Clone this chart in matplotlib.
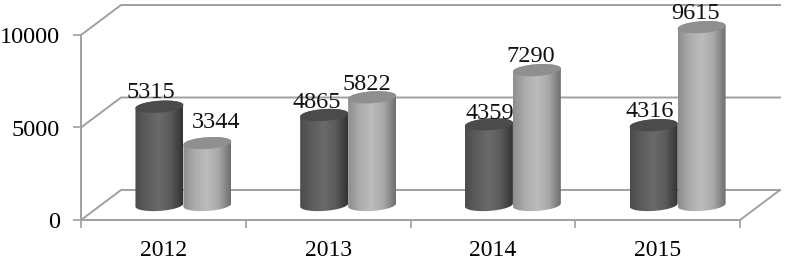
import numpy as np
import matplotlib
matplotlib.use("Agg")
import matplotlib.pyplot as plt
from matplotlib.colors import LinearSegmentedColormap
from matplotlib.path import Path

years = ["2012", "2013", "2014", "2015"]
series_a = [5315, 4865, 4359, 4316]
series_b = [3344, 5822, 7290, 9615]
y_ticks = [0, 5000, 10000]

plt.rcParams["font.family"] = ["Liberation Serif", "DejaVu Serif"]

GRID = "#a0a0a0"
DEPTH_X = 0.243  # 3d floor shift, in categories
DEPTH_Y = 1622  # 3d floor shift, in value units
BAR_W = 0.291
ELL_H = 640
TILT = 170  # rise of the cylinder ends from left to right, in value units

cmap_a = LinearSegmentedColormap.from_list("a", ["#4c4c4c", "#5d5d5d", "#6a6a6a", "#5a5a5a", "#343434"])
cmap_b = LinearSegmentedColormap.from_list("b", ["#8e8e8e", "#adadad", "#bcbcbc", "#a8a8a8", "#6f6f6f"])

fig = plt.figure(figsize=(7.85, 2.61), dpi=100)
ax = fig.add_axes([81 / 785, 41 / 261, 659 / 785, 185 / 261])
grad = np.linspace(0, 1, 64).reshape(1, -1)


def cylinder(x0, value, cmap, top_color):
    base = DEPTH_Y / 2
    x1 = x0 + BAR_W
    xc = (x0 + x1) / 2
    t = np.linspace(0, np.pi, 60)
    top_x = xc - BAR_W / 2 * np.cos(t)
    bot_x = xc + BAR_W / 2 * np.cos(t)
    # top edge goes over the ellipse, bottom edge under it
    top_y = base + value + ELL_H / 2 * np.sin(t) + TILT * (top_x - xc) / BAR_W
    bot_y = base - ELL_H / 2 * np.sin(t) + TILT * (bot_x - xc) / BAR_W
    outline = Path(np.column_stack([np.r_[top_x, bot_x], np.r_[top_y, bot_y]]))
    im = ax.imshow(grad, cmap=cmap, vmin=0, vmax=1, aspect="auto", zorder=3,
                   extent=[x0, x1, base - ELL_H - TILT, base + value + ELL_H + TILT], interpolation="bilinear")
    im.set_clip_path(outline, ax.transData)
    im.set_clip_box(fig.bbox)
    # lid of the cylinder
    lid_y = base + value - ELL_H / 2 * np.sin(t) + TILT * (bot_x - xc) / BAR_W
    ax.fill(np.r_[top_x, bot_x], np.r_[top_y, lid_y], fc=top_color, ec="none", zorder=3, clip_on=False)


for i in range(len(years)):
    xc = i + 0.5 + DEPTH_X / 2
    cylinder(xc - BAR_W, series_a[i], cmap_a, "#4b4b4b")
    cylinder(xc, series_b[i], cmap_b, "#8f8f8f")

# back wall and side walls
for v in y_ticks:
    ax.plot([0, DEPTH_X, 4 + DEPTH_X], [v, v + DEPTH_Y, v + DEPTH_Y], color=GRID, lw=1.4, clip_on=False, zorder=1)
ax.plot([4, 4 + DEPTH_X], [0, DEPTH_Y], color=GRID, lw=1.4, clip_on=False, zorder=1)

ax.set_xlim(0, 4)
ax.set_ylim(0, 10000)
ax.patch.set_visible(False)
for s in ["top", "right"]:
    ax.spines[s].set_visible(False)
for s in ["left", "bottom"]:
    ax.spines[s].set_color(GRID)
    ax.spines[s].set_linewidth(1.4)

ax.set_yticks(y_ticks)
ax.set_xticks(range(5))
ax.set_xticklabels([])
ax.set_xticks([i + 0.5 for i in range(4)], minor=True)
ax.set_xticklabels(years, minor=True, fontsize=17)
ax.tick_params(axis="x", which="major", length=6, width=1.2, color=GRID)
ax.tick_params(axis="x", which="minor", length=0, pad=14.5)
ax.tick_params(axis="y", length=6, width=1.2, color=GRID, labelsize=17.5, pad=9)

# label nudges in points, the labels sit around the cylinder tops
nudge_a = [(-6, 2.5), (-5, 1.5), (1, 0), (-3, 2)]
nudge_b = [(6, 7), (-4, 1.5), (-4.5, 2.5), (-4.5, 2)]
for i in range(len(years)):
    xc = i + 0.5 + DEPTH_X / 2
    for x, vals, nudge in [(xc - BAR_W / 2, series_a, nudge_a), (xc + BAR_W / 2, series_b, nudge_b)]:
        ax.annotate(str(vals[i]), (x, vals[i] + DEPTH_Y / 2), xytext=nudge[i], textcoords="offset points",
                    ha="center", va="bottom", fontsize=17.5, color="#111111", zorder=5, annotation_clip=False)

fig.savefig("out.png", dpi=100)
